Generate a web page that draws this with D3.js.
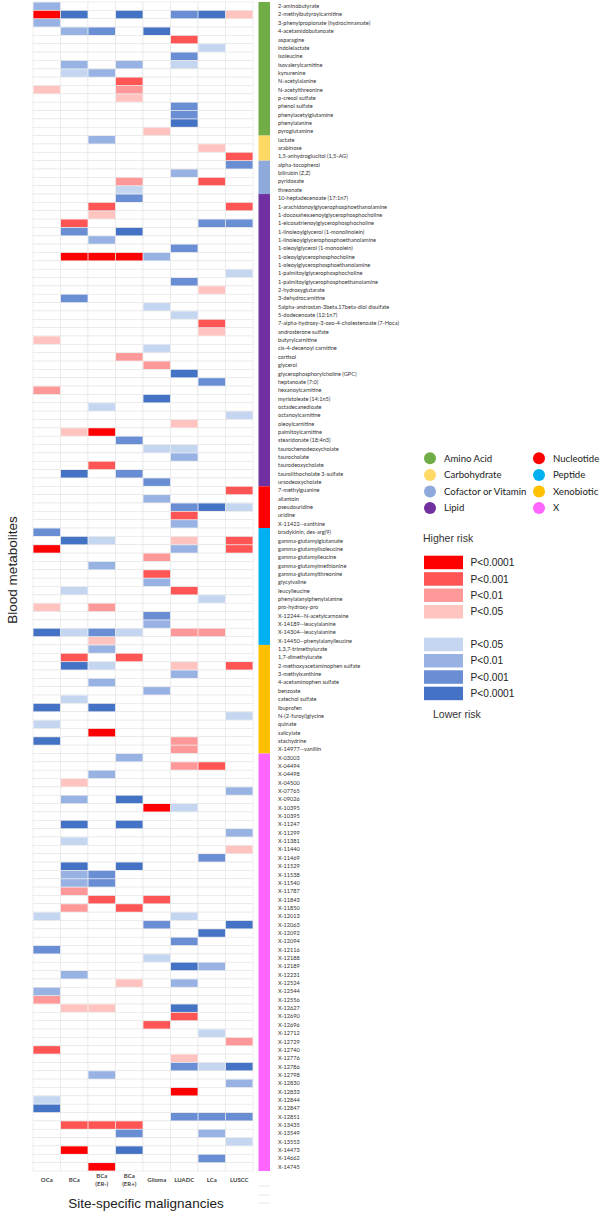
<!DOCTYPE html>
<html><head><meta charset="utf-8">
<script src="https://cdn.jsdelivr.net/npm/d3@7"></script>
<style>body{margin:0;background:#fff}svg{display:block}</style>
</head><body>
<div id="chart"></div>
<script>
const columns = ["OCa","BCa","BCa (ER-)","BCa (ER+)","Glioma","LUADC","LCa","LUSCC"];
const columnLabelLines = [["OCa"],["BCa"],["BCa","(ER-)"],["BCa","(ER+)"],["Glioma"],["LUADC"],["LCa"],["LUSCC"]];

const groupNames = ["Amino Acid","Carbohydrate","Cofactor or Vitamin","Lipid","Nucleotide","Peptide","Xenobiotic","X"];
const groupSizes = [16,3,4,35,5,14,13,50];
const groupColors = ["#70AD47","#FFD966","#8EA9DB","#7030A0","#FF0000","#00B0F0","#FFC000","#FF66FF"];

const metabolites = [
"2-aminobutyrate","2-methylbutyroylcarnitine","3-phenylpropionate (hydrocinnamate)","4-acetamidobutanoate","asparagine","indolelactate","isoleucine","isovalerylcarnitine","kynurenine","N-acetylalanine","N-acetylthreonine","p-cresol sulfate","phenol sulfate","phenylacetylglutamine","phenylalanine","pyroglutamine",
"lactate","arabinose","1,5-anhydroglucitol (1,5-AG)",
"alpha-tocopherol","bilirubin (Z,Z)","pyridoxate","threonate",
"10-heptadecenoate (17:1n7)","1-arachidonoylglycerophosphoethanolamine","1-docosahexaenoylglycerophosphocholine","1-eicosatrienoylglycerophosphocholine","1-linoleoylglycerol (1-monolinolein)","1-linoleoylglycerophosphoethanolamine","1-oleoylglycerol (1-monoolein)","1-oleoylglycerophosphocholine","1-oleoylglycerophosphoethanolamine","1-palmitoylglycerophosphocholine","1-palmitoylglycerophosphoethanolamine","2-hydroxyglutarate","3-dehydrocarnitine","5alpha-androstan-3beta,17beta-diol disulfate","5-dodecenoate (12:1n7)","7-alpha-hydroxy-3-oxo-4-cholestenoate (7-Hoca)","androsterone sulfate","butyrylcarnitine","cis-4-decenoyl carnitine","cortisol","glycerol","glycerophosphorylcholine (GPC)","heptanoate (7:0)","hexanoylcarnitine","myristoleate (14:1n5)","octadecanedioate","octanoylcarnitine","oleoylcarnitine","palmitoylcarnitine","stearidonate (18:4n3)","taurochenodeoxycholate","taurocholate","taurodeoxycholate","taurolithocholate 3-sulfate","ursodeoxycholate",
"7-methylguanine","allantoin","pseudouridine","uridine","X-11422--xanthine",
"bradykinin, des-arg(9)","gamma-glutamylglutamate","gamma-glutamylisoleucine","gamma-glutamylleucine","gamma-glutamylmethionine","gamma-glutamylthreonine","glycylvaline","leucylleucine","phenylalanylphenylalanine","pro-hydroxy-pro","X-12244--N-acetylcarnosine","X-14189--leucylalanine","X-14304--leucylalanine","X-14450--phenylalanylleucine",
"1,3,7-trimethylurate","1,7-dimethylurate","2-methoxyacetaminophen sulfate","3-methylxanthine","4-acetaminophen sulfate","benzoate","catechol sulfate","ibuprofen","N-(2-furoyl)glycine","quinate","salicylate","stachydrine","X-14977--vanillin",
"X-03003","X-04494","X-04498","X-04500","X-07765","X-09026","X-10395","X-10395","X-11247","X-11299","X-11381","X-11440","X-11469","X-11529","X-11538","X-11540","X-11787","X-11843","X-11850","X-12013","X-12063","X-12092","X-12094","X-12116","X-12188","X-12189","X-12231","X-12524","X-12544","X-12556","X-12627","X-12690","X-12696","X-12712","X-12729","X-12740","X-12776","X-12786","X-12798","X-12830","X-12833","X-12844","X-12847","X-12851","X-13435","X-13549","X-13553","X-14473","X-14662","X-14745"
];

// significance level: +4 P<0.0001 higher risk ... -4 P<0.0001 lower risk, 0 = not significant
const values = [
[-2,0,0,0,0,0,0,0],[4,-4,0,-4,0,-3,-4,1],[-2,0,0,0,0,0,0,0],[0,-2,-3,0,-4,0,0,0],[0,0,0,0,0,3,0,0],[0,0,0,0,0,0,-1,0],[0,0,0,0,0,-3,0,0],[0,-2,0,-2,0,-1,0,0],[0,-1,-2,0,0,0,0,0],[0,0,0,3,0,0,0,0],[1,0,0,2,0,0,0,0],[0,0,0,1,0,0,0,0],[0,0,0,0,0,-3,0,0],[0,0,0,0,0,-3,0,0],[0,0,0,0,0,-4,0,0],[0,0,0,0,1,0,0,0],
[0,0,-2,0,0,0,0,0],[0,0,0,0,0,0,1,0],[0,0,0,0,0,0,0,3],
[0,0,0,0,0,0,0,-3],[0,0,0,0,0,-2,0,0],[0,0,0,2,0,0,3,0],[0,0,0,-1,0,0,0,0],
[0,0,0,-3,0,0,0,0],[0,0,3,0,0,0,0,3],[0,0,1,0,0,0,0,0],[0,3,0,0,0,0,-3,-3],[0,-3,0,-4,0,0,0,0],[0,0,-2,0,0,0,0,0],[0,0,0,0,0,-3,0,0],[0,4,4,4,-2,0,0,0],[0,0,0,0,0,0,0,0],[0,0,0,0,0,0,0,-1],[0,0,0,0,0,-3,0,0],[0,0,0,0,0,0,1,0],[0,-3,0,0,0,0,0,0],[0,0,0,0,-1,0,0,0],[0,0,0,0,0,-1,0,0],[0,0,0,0,0,0,3,0],[0,0,0,0,0,0,1,0],[1,0,0,0,0,0,0,0],[0,0,0,0,-1,0,0,0],[0,0,0,2,0,0,0,0],[0,0,0,0,2,0,0,0],[0,0,0,0,0,-4,0,0],[0,0,0,0,0,0,-3,0],[2,0,0,0,0,0,0,0],[0,0,0,0,-4,0,0,0],[0,0,-1,0,0,0,0,0],[0,0,0,0,0,0,0,-1],[0,0,0,0,0,1,0,0],[0,1,4,0,0,0,0,0],[0,0,0,-3,0,0,0,0],[0,0,0,0,-1,-1,0,0],[0,0,0,0,0,-2,0,0],[0,0,3,0,0,0,0,0],[0,-4,0,-3,0,0,0,0],[0,0,0,0,-3,0,0,0],
[0,0,0,0,0,0,0,3],[0,0,0,0,-2,0,0,0],[0,0,0,0,0,-3,-4,-1],[0,0,0,0,0,3,0,0],[0,0,0,0,0,-2,0,0],
[-3,0,0,0,0,0,0,0],[0,-4,-1,0,0,1,0,3],[4,0,0,0,0,-2,0,3],[0,0,0,0,2,0,0,0],[0,0,-2,0,0,0,0,0],[0,0,0,0,3,0,0,0],[0,0,0,0,-2,0,0,0],[0,-1,0,0,0,3,0,0],[0,0,0,0,0,0,-1,0],[1,0,2,0,0,0,0,0],[0,0,0,0,-3,0,0,0],[0,0,0,0,-2,0,0,0],[-4,-1,-3,-1,0,2,2,0],[0,0,1,0,0,0,0,0],
[0,0,-2,0,0,0,0,0],[0,3,0,3,0,0,0,0],[0,-4,-1,0,0,1,0,3],[0,0,0,0,0,-2,0,0],[0,0,-2,0,0,0,0,0],[0,0,0,0,-2,0,0,0],[0,-1,0,0,0,0,0,0],[-4,0,-4,0,0,0,0,0],[0,0,0,0,0,0,0,-1],[-1,0,0,0,0,0,0,0],[0,0,4,0,0,0,0,0],[-4,0,0,0,0,2,0,0],[0,0,0,0,0,2,0,0],
[0,0,0,-2,0,0,0,0],[0,0,0,0,0,2,3,0],[0,0,-2,0,0,0,0,0],[0,1,0,0,0,0,0,0],[0,0,0,0,0,0,0,-2],[0,-2,0,-4,0,0,0,0],[0,0,0,0,4,-1,0,0],[0,0,0,0,0,0,0,0],[0,-4,0,-4,0,0,0,0],[0,0,0,0,0,0,0,-2],[0,-1,0,0,0,0,0,0],[0,0,0,0,0,0,0,1],[0,0,0,0,0,0,-3,0],[0,-4,0,-4,0,0,0,0],[0,-2,-3,0,0,0,0,0],[0,-2,-3,0,0,0,0,0],[0,2,0,0,0,0,0,0],[0,0,3,0,3,0,0,0],[0,2,0,3,0,0,0,0],[-1,0,0,0,0,-1,0,0],[0,0,0,0,-3,0,0,-4],[0,0,0,0,0,0,-4,0],[0,0,0,0,0,-3,0,0],[-3,0,0,0,0,0,0,0],[0,0,0,0,-1,0,0,0],[0,0,0,0,0,-4,-2,0],[0,-2,0,0,0,0,0,0],[0,0,0,1,0,-2,0,0],[-2,0,0,0,0,0,0,0],[2,0,0,0,0,0,0,0],[0,1,1,0,0,-4,0,0],[0,0,0,0,0,3,0,0],[0,0,0,0,3,0,0,0],[0,0,0,0,0,0,-1,0],[0,0,0,0,0,0,0,2],[3,0,0,0,0,0,0,0],[0,0,0,0,0,1,0,0],[0,0,0,0,0,-3,-1,-4],[0,0,-2,0,0,0,0,0],[0,0,0,0,0,0,0,-2],[0,0,0,0,0,4,0,0],[-1,0,0,0,0,0,0,0],[-4,0,0,0,0,0,0,0],[0,0,0,0,0,-3,-3,-3],[0,3,3,3,0,0,0,0],[0,0,0,-3,0,0,-2,0],[0,0,0,0,0,0,0,-1],[0,4,0,-4,0,0,0,0],[0,0,0,0,0,0,-3,0],[0,0,4,0,0,0,0,0]
];

const levels = [4,3,2,1,-1,-2,-3,-4];
const levelLabels = ["P<0.0001","P<0.001","P<0.01","P<0.05","P<0.05","P<0.01","P<0.001","P<0.0001"];
const levelColors = ["#FF0000","#FF5555","#FF9999","#FFC4C0","#C5D6F0","#98B3E3","#6A8ED4","#4472C4"];

const W = 602, H = 1215;
const svg = d3.select("#chart").append("svg").attr("width", W).attr("height", H);

const x = d3.scaleBand().domain(d3.range(columns.length)).range([33, 253]);
const y = d3.scaleBand().domain(d3.range(metabolites.length)).range([2, 1171]);
const color = d3.scaleOrdinal().domain(levels).range(levelColors);

// grid
const cells = [];
values.forEach((row, i) => row.forEach((v, j) => cells.push({i, j, v})));
svg.append("g").selectAll("rect").data(cells).join("rect")
  .attr("x", d => x(d.j)).attr("y", d => y(d.i))
  .attr("width", x.bandwidth()).attr("height", y.bandwidth())
  .attr("fill", "#fff").attr("stroke", "#e4e4e4").attr("stroke-width", 0.6);

svg.append("g").selectAll("rect").data(cells.filter(d => d.v !== 0)).join("rect")
  .attr("x", d => x(d.j) + 0.4).attr("y", d => y(d.i) + 0.4)
  .attr("width", x.bandwidth() - 0.8).attr("height", y.bandwidth() - 0.8)
  .attr("fill", d => color(d.v));

// category bar
const groupOfRow = [];
groupSizes.forEach((n, g) => { for (let k = 0; k < n; k++) groupOfRow.push(g); });
const gcolor = d3.scaleOrdinal().domain(groupNames).range(groupColors);
let start = 0;
const spans = groupSizes.map((n, g) => { const s = {g, start, end: start + n - 1}; start += n; return s; });
svg.append("g").selectAll("rect").data(spans).join("rect")
  .attr("x", 258.5).attr("width", 11.5)
  .attr("y", d => y(d.start)).attr("height", d => y(d.end) + y.bandwidth() - y(d.start))
  .attr("fill", d => gcolor(groupNames[d.g]));

// faint lines below bar
svg.append("g").selectAll("line").data([1186, 1195, 1203]).join("line")
  .attr("x1", 258.5).attr("x2", 270).attr("y1", d => d).attr("y2", d => d)
  .attr("stroke", "#e2e2e2").attr("stroke-width", 0.8);

// row labels
svg.append("g").selectAll("text").data(metabolites).join("text")
  .attr("x", 278).attr("y", (d, i) => y(i) + y.bandwidth() / 2)
  .attr("dy", "0.35em")
  .style("font-family", "Lato, 'Open Sans', sans-serif").style("font-size", "5.6px").attr("fill", "#333")
  .text(d => d);

// column labels
const cl = svg.append("g").selectAll("text").data(columnLabelLines).join("text")
  .attr("text-anchor", "middle")
  .attr("x", (d, j) => x(j) + x.bandwidth() / 2)
  .style("font-family", "Lato, 'Open Sans', sans-serif").style("font-size", "6px").style("font-weight", "bold").attr("fill", "#444");
cl.each(function(lines) {
  const t = d3.select(this);
  const y0 = lines.length === 1 ? 1182 : 1177.5;
  lines.forEach((ln, k) => t.append("tspan").attr("x", t.attr("x")).attr("y", y0 + k * 8.3).text(ln));
});

// axis titles
svg.append("text").attr("x", 146).attr("y", 1208).attr("text-anchor", "middle")
  .style("font-family", "'Liberation Sans', Arial, sans-serif").style("font-size", "13.5px").attr("fill", "#222")
  .text("Site-specific malignancies");
svg.append("text").attr("transform", "translate(17,570) rotate(-90)").attr("text-anchor", "middle")
  .style("font-family", "'Liberation Sans', Arial, sans-serif").style("font-size", "13.5px").attr("fill", "#222")
  .text("Blood metabolites");

// category legend
const lg = svg.append("g");
groupNames.forEach((name, g) => {
  const col = Math.floor(g / 4), row = g % 4;
  const cx = col === 0 ? 430 : 539, cy = 458.3 + row * 16.6;
  lg.append("circle").attr("cx", cx).attr("cy", cy).attr("r", 6).attr("fill", gcolor(name));
  lg.append("text").attr("x", cx + 14).attr("y", cy).attr("dy", "0.35em")
    .style("font-family", "Lato, 'Open Sans', sans-serif").style("font-size", "9.6px").attr("fill", "#222")
    .text(name);
});

// significance legend
const sg = svg.append("g");
const legendFont = "'Liberation Sans', Arial, sans-serif";
sg.append("text").attr("x", 423).attr("y", 541.5).style("font-family", legendFont).style("font-size", "10.5px").attr("fill", "#333").text("Higher risk");
sg.append("text").attr("x", 433).attr("y", 717.5).style("font-family", legendFont).style("font-size", "10.5px").attr("fill", "#333").text("Lower risk");
const swatchY = [555.7, 572.2, 588.5, 605, 637.7, 654, 670.3, 686.7];
levels.forEach((lv, k) => {
  sg.append("rect").attr("x", 424).attr("y", swatchY[k]).attr("width", 39).attr("height", 13.5).attr("fill", color(lv));
  sg.append("text").attr("x", 470.5).attr("y", swatchY[k] + 6.9).attr("dy", "0.35em")
    .style("font-family", legendFont).style("font-size", "10.2px").attr("fill", "#222").text(levelLabels[k]);
});
</script>
</body></html>
